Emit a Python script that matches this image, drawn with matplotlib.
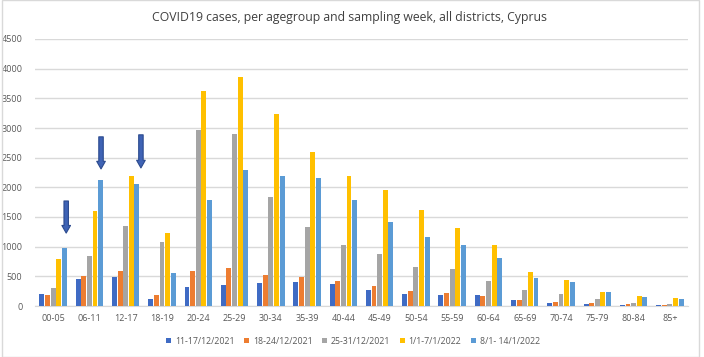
import numpy as np
import matplotlib
matplotlib.use("Agg")
import matplotlib.pyplot as plt
from matplotlib.patches import Rectangle

plt.rcParams['font.family'] = ['Open Sans', 'DejaVu Sans']

agegroups = ["00-05", "06-11", "12-17", "18-19", "20-24", "25-29", "30-34", "35-39",
             "40-44", "45-49", "50-54", "55-59", "60-64", "65-69", "70-74", "75-79",
             "80-84", "85+"]

weeks = ["11-17/12/2021", "18-24/12/2021", "25-31/12/2021", "1/1-7/1/2022", "8/1- 14/1/2022"]

wk1 = [208, 462, 484, 113, 327, 360, 389, 411, 377, 265, 208, 186, 186, 96, 56, 28, 23, 23]
wk2 = [180, 501, 597, 180, 586, 637, 524, 490, 428, 344, 248, 225, 169, 96, 68, 51, 28, 23]
wk3 = [310, 839, 1352, 1076, 2969, 2901, 1842, 1329, 1025, 884, 665, 620, 428, 265, 197, 113, 56, 39]
wk4 = [800, 1600, 2191, 1234, 3628, 3859, 3239, 2602, 2191, 1955, 1622, 1318, 1036, 569, 434, 242, 169, 135]
wk5 = [980, 2124, 2060, 563, 1780, 2293, 2197, 2152, 1786, 1408, 1155, 1036, 806, 473, 400, 231, 146, 124]

colors = ["#3F6BC4", "#ED7D31", "#A5A5A5", "#FFC000", "#5B9BD5"]

# arrows: (x in category units, top value, tip value)
arrows = [(0.36, 1770, 1229), (1.32, 2851, 2310), (2.42, 2885, 2327)]

fig = plt.figure(figsize=(7.04, 3.57), dpi=100)
ax = fig.add_axes([35/704, 1 - 306/357, (688-35)/704, (306-39)/357])

series = [wk1, wk2, wk3, wk4, wk5]
x = np.arange(len(agegroups))
step = 0.155
width = 0.135
for i, vals in enumerate(series):
    ax.bar(x + (i - 2) * step, vals, width=width, color=colors[i], label=weeks[i], zorder=3)

for ax_x, top, tip in arrows:
    ax.annotate("", xy=(ax_x, tip), xytext=(ax_x, top),
                arrowprops=dict(arrowstyle="simple,head_length=0.55,head_width=0.62,tail_width=0.32",
                                fc="#3F63B5", ec="#2B4A8E", lw=0.8, shrinkA=0, shrinkB=0),
                zorder=5)

ax.set_xlim(-0.5, len(agegroups) - 0.5)
ax.set_ylim(0, 4500)
ax.set_yticks(np.arange(0, 4501, 500))
ax.set_xticks(x)
ax.set_xticklabels(agegroups)
ax.grid(axis='y', color="#D9D9D9", lw=1, zorder=0)
for s in ["top", "right", "left"]:
    ax.spines[s].set_visible(False)
ax.spines["bottom"].set_color("#D9D9D9")
ax.tick_params(axis='both', length=0, labelsize=6.5, labelcolor="#595959")
ax.tick_params(axis='y', pad=9)
ax.tick_params(axis='x', pad=6)

fig.text(350/704, 1 - 17/357, "COVID19 cases, per agegroup and sampling week, all districts, Cyprus",
         ha="center", va="center", fontsize=8.8, color="#404040")

fig.legend(loc="center", bbox_to_anchor=(353/704, 1 - 341/357), ncol=5, frameon=False,
           fontsize=6.3, handlelength=0.6, handleheight=0.6, handletextpad=0.4,
           columnspacing=1.1, labelcolor="#595959")

fig.patches.append(Rectangle((2/704, 0), 697/704, 1.0, transform=fig.transFigure,
                             fill=False, ec="#D9D9D9", lw=1))

fig.savefig("out.png", dpi=100)
